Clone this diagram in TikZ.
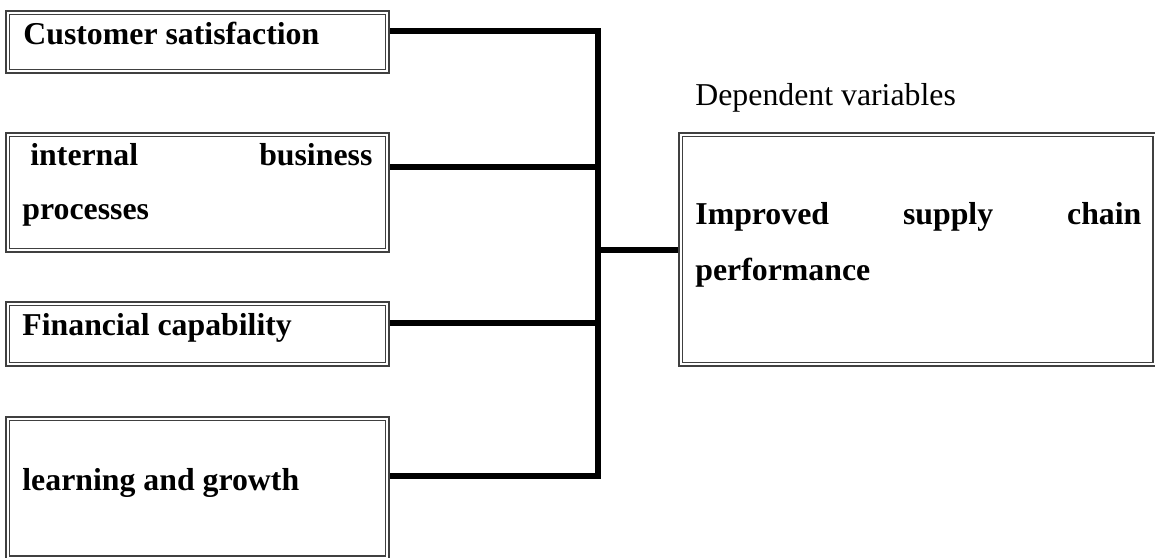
\documentclass[tikz,border=0pt]{standalone}
\usepackage{fontspec}
\setmainfont{Liberation Serif}
\definecolor{boxgray}{RGB}{64,64,64}
\begin{document}
\begin{tikzpicture}[x=0.5pt,y=-0.5pt,
	varbox/.style={draw=boxgray,double=white,line width=0.85pt,double distance=1pt,inner sep=0pt,outer sep=1.4pt,minimum width=189.8pt},
	boxtext/.style={anchor=base west,inner sep=0pt,font=\fontsize{15.9}{19}\selectfont\bfseries},
	link/.style={line width=2.75pt,line join=miter}]
	\useasboundingbox (0,0) rectangle (1155,557);
	\node[varbox,minimum height=29.3pt] (cust) at (197.5,42) {};
	\node[varbox,minimum height=57.8pt] (proc) at (197.5,192.5) {};
	\node[varbox,minimum height=30.3pt] (fin) at (197.5,334) {};
	\node[varbox,minimum height=69.4pt] (grow) at (197.5,488.1) {};
	\node[varbox,minimum width=236.9pt,minimum height=114.8pt] (perf) at (917.6,249.5) {};
	\node[boxtext] (custtext) at (23,44) {Customer satisfaction};
	\node[boxtext,text width=171pt,align=left] (proctext) at (30,165) {internal\hfill business};
	\node[boxtext] (proctext2) at (22,219) {processes};
	\node[boxtext] (fintext) at (22,335) {Financial capability};
	\node[boxtext] (growtext) at (22,490) {learning and growth};
	\node[boxtext,font=\fontsize{15.9}{19}\selectfont] (dep) at (695,105) {Dependent variables};
	\node[boxtext,text width=223pt,align=left] (perftext) at (695,224) {Improved\hfill supply\hfill chain};
	\node[boxtext] (perftext2) at (695,280) {performance};
	\coordinate (j1) at (598,31);
	\coordinate (j2) at (598,167);
	\coordinate (j3) at (598,323);
	\coordinate (j4) at (598,476);
	\coordinate (jm) at (598,250);
	\draw[link] (j1 -| cust.east) -- (j1) -- (j4) -- (j4 -| grow.east);
	\draw[link] (j2 -| proc.east) -- (j2);
	\draw[link] (j3 -| fin.east) -- (j3);
	\draw[link] (jm) -- (jm -| perf.west);
\end{tikzpicture}
\end{document}
